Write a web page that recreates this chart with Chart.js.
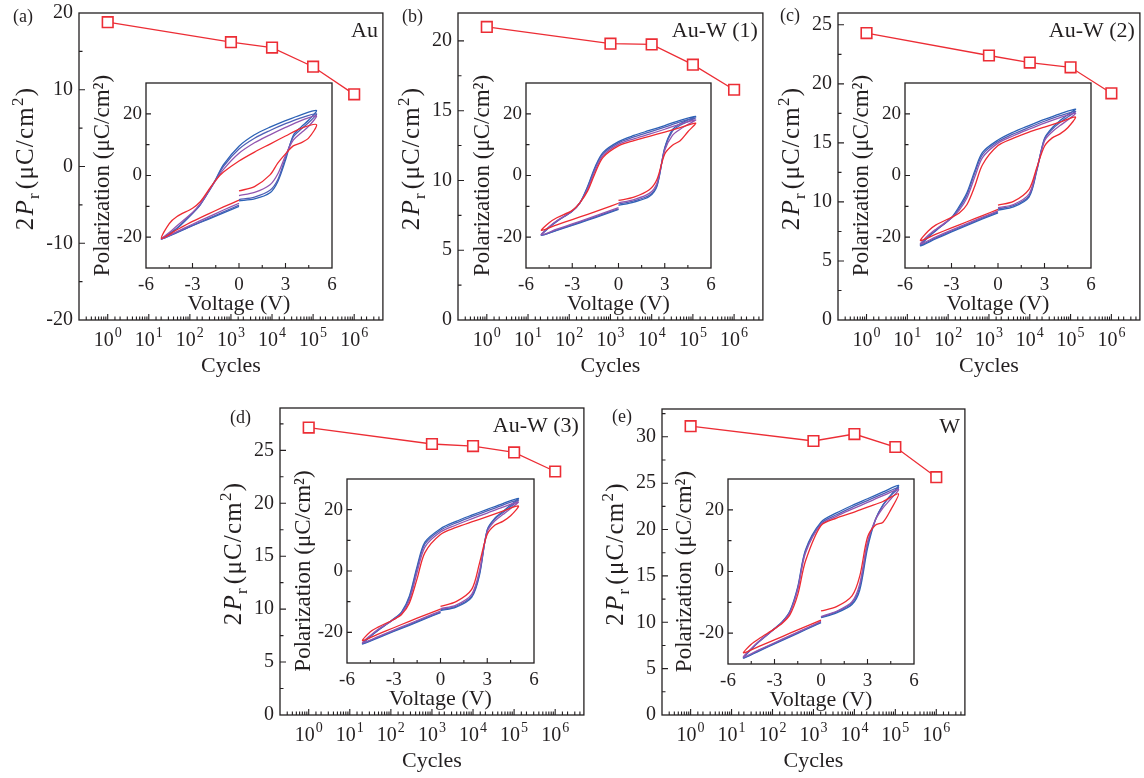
<!DOCTYPE html>
<html>
<head>
<meta charset="utf-8">
<title>Remanent polarization vs cycles</title>
<script src="https://cdn.jsdelivr.net/npm/chart.js"></script>
<style>
  html, body { margin: 0; padding: 0; background: #fff; overflow: hidden; }
  #page { position: relative; width: 1144px; height: 778px; overflow: hidden; }
  #page canvas { position: absolute; }
</style>
</head>
<body>
<div id="page"></div>
<script>
// ---- data ----
const cycles = [1, 1e3, 1e4, 1e5, 1e6];

// 2Pr (uC/cm2) per panel
const prA = [18.8, 16.2, 15.5, 13.0, 9.4];
const prB = [21.0, 19.8, 19.75, 18.3, 16.5];
const prC = [24.3, 22.4, 21.8, 21.4, 19.2];
const prD = [27.15, 25.6, 25.4, 24.8, 23.0];
const prE = [31.15, 29.55, 30.3, 28.9, 25.65];

// voltage path of one P-V loop: 0 -> +5 -> -5 -> 0
const loopVolts = [0, 1, 2, 2.5, 3, 3.5, 4, 4.5, 5, 4, 3, 2, 1, 0, -1, -1.5, -2, -2.5, -3, -4, -4.5, -5, -4, -3, -2, -1, 0];

// polarization along that path, loops ordered blue -> red
const loopsA = [
  [-8.2, -7.6, -5.6, -2.0, 5.0, 13.0, 15.7, 18.0, 21.1, 19.7, 17.8, 15.7, 13.2, 9.5, 3.5, -1.2, -5.5, -9.5, -12.3, -17.2, -19.0, -20.6, -18.5, -16.3, -14.2, -12.1, -10.0],
  [-7.8, -7.0, -4.8, -1.4, 5.8, 12.5, 15.0, 17.2, 20.0, 18.7, 16.8, 14.6, 12.1, 8.6, 3.0, -1.4, -5.6, -9.4, -12.2, -17.0, -18.9, -20.6, -18.4, -16.2, -14.0, -11.8, -9.6],
  [-6.5, -5.5, -3.0, 0.5, 6.5, 11.5, 13.8, 16.0, 19.4, 17.8, 15.6, 13.2, 10.6, 7.2, 2.0, -1.6, -5.4, -9.2, -12.0, -16.3, -18.5, -20.6, -18.2, -15.8, -13.5, -11.2, -9.0],
  [-5.0, -3.6, 0.2, 4.0, 7.0, 9.6, 10.6, 12.2, 16.5, 15.3, 12.8, 10.2, 7.6, 4.7, 1.1, -1.5, -5.0, -8.5, -10.6, -13.3, -15.6, -20.4, -17.6, -14.9, -12.5, -10.2, -8.0]
];
const loopsB = [
  [-9.7, -8.6, -6.8, -3.4, 9.0, 14.9, 16.8, 18.0, 19.2, 17.9, 16.2, 14.6, 13.0, 11.0, 7.5, 3.0, -3.5, -8.8, -11.5, -14.8, -16.8, -19.3, -17.8, -16.2, -14.5, -12.8, -11.0],
  [-9.3, -8.2, -6.4, -3.0, 8.8, 14.4, 16.3, 17.5, 18.7, 17.4, 15.7, 14.1, 12.5, 10.6, 7.1, 2.6, -3.8, -8.9, -11.6, -14.9, -16.9, -19.4, -17.7, -16.0, -14.3, -12.5, -10.8],
  [-8.9, -7.8, -5.8, -2.4, 8.2, 13.0, 15.0, 16.5, 18.0, 16.7, 15.0, 13.4, 11.9, 10.1, 6.5, 1.8, -4.4, -8.9, -11.5, -14.7, -16.6, -19.2, -17.4, -15.7, -14.0, -12.2, -10.4],
  [-8.1, -7.0, -4.6, -1.2, 7.0, 9.8, 11.3, 14.2, 17.0, 15.5, 14.1, 12.7, 11.3, 9.6, 5.9, 1.0, -5.0, -8.8, -11.3, -13.7, -15.3, -17.8, -16.0, -14.3, -12.6, -10.8, -9.0]
];
const loopsC = [
  [-11.2, -10.2, -7.0, 1.5, 12.0, 15.5, 17.8, 19.7, 21.5, 20.0, 18.2, 16.2, 14.1, 11.5, 7.5, 1.5, -5.5, -10.0, -13.6, -17.8, -20.0, -22.8, -20.5, -18.3, -16.2, -14.1, -12.1],
  [-10.8, -9.8, -6.6, 1.8, 11.8, 15.0, 17.2, 19.0, 20.8, 19.4, 17.6, 15.6, 13.5, 11.0, 6.8, 0.8, -6.2, -10.6, -13.8, -17.8, -19.8, -22.5, -20.2, -18.0, -15.9, -13.8, -11.8],
  [-10.4, -9.4, -6.0, 2.0, 11.2, 14.2, 16.2, 18.0, 20.2, 18.8, 17.0, 15.0, 12.9, 10.5, 5.8, -0.5, -7.2, -11.2, -13.8, -17.4, -19.4, -22.2, -19.9, -17.7, -15.6, -13.5, -11.5],
  [-9.6, -8.4, -4.5, 2.5, 9.5, 12.2, 13.5, 15.5, 19.0, 17.3, 15.7, 14.1, 12.1, 9.7, 3.5, -3.5, -9.4, -12.2, -13.6, -16.0, -18.0, -21.1, -19.0, -17.0, -15.0, -13.0, -11.0]
];
const loopsD = [
  [-12.9, -11.8, -8.6, -1.4, 13.5, 17.3, 19.4, 21.5, 23.7, 22.0, 20.1, 18.2, 16.2, 13.8, 9.4, 1.5, -8.2, -13.4, -15.6, -19.3, -21.4, -23.8, -21.8, -19.7, -17.7, -15.6, -13.6],
  [-12.6, -11.5, -8.2, -0.8, 13.2, 17.0, 19.0, 21.0, 23.2, 21.5, 19.6, 17.7, 15.7, 13.3, 8.8, 0.8, -8.8, -13.6, -15.7, -19.3, -21.3, -23.6, -21.6, -19.5, -17.5, -15.4, -13.4],
  [-12.3, -11.1, -7.6, 0.0, 12.8, 16.4, 18.4, 20.4, 22.5, 20.8, 18.9, 17.0, 15.0, 12.7, 7.8, -0.4, -9.6, -13.9, -15.8, -19.0, -21.0, -23.4, -21.4, -19.3, -17.2, -15.1, -13.1],
  [-11.5, -10.0, -6.0, 2.5, 12.0, 15.0, 16.2, 18.0, 21.2, 19.5, 17.7, 16.0, 14.2, 11.9, 6.0, -2.5, -10.5, -14.2, -15.8, -18.3, -19.8, -22.7, -20.6, -18.5, -16.4, -14.4, -12.4]
];
const loopsE = [
  [-15.0, -13.4, -10.7, -6.0, 7.5, 16.5, 21.5, 24.8, 27.9, 25.8, 23.6, 21.4, 19.0, 16.0, 7.0, -5.0, -12.8, -16.3, -18.5, -22.7, -25.2, -28.1, -25.8, -23.5, -21.2, -18.9, -16.6],
  [-14.8, -13.1, -10.2, -5.0, 8.8, 16.8, 21.6, 24.6, 27.2, 25.2, 23.0, 20.8, 18.4, 15.6, 6.6, -5.4, -13.0, -16.4, -18.6, -22.8, -25.2, -28.0, -25.6, -23.3, -21.0, -18.7, -16.4],
  [-14.6, -12.9, -9.8, -4.0, 9.5, 16.6, 20.6, 23.5, 26.6, 24.6, 22.4, 20.2, 17.9, 15.2, 6.0, -5.8, -13.3, -16.5, -18.6, -22.6, -25.0, -27.7, -25.4, -23.1, -20.8, -18.5, -16.2],
  [-12.8, -11.4, -7.9, -1.5, 11.1, 15.0, 16.0, 20.0, 25.2, 22.7, 20.9, 19.0, 17.3, 14.9, 3.4, -7.5, -14.0, -16.8, -18.6, -21.8, -23.6, -26.4, -24.3, -22.2, -20.0, -17.9, -15.8]
];

const loopColors = ['#2c62b6', '#4f5fb6', '#9156b0', '#ee2a31'];
const lineRed = '#ec2d35';
const ink = '#231f20';
const serif = "'Liberation Serif', 'Times New Roman', Times, serif";

// box = [left, top, right, bottom] of the plot frame in page pixels
const panels = [
  { tag: '(a)', tagAt: [13, 17], name: 'Au', pr: prA, loops: loopsA, yMin: -20, yMax: 20, yStep: 10,
    box: [79, 13, 386, 320], inset: [146, 83, 332, 268] },
  { tag: '(b)', tagAt: [402, 17], name: 'Au-W (1)', pr: prB, loops: loopsB, yMin: 0, yMax: 22, yStep: 5,
    box: [458, 13, 766, 320], inset: [526, 83, 711, 268] },
  { tag: '(c)', tagAt: [780, 16], name: 'Au-W (2)', pr: prC, loops: loopsC, yMin: 0, yMax: 26, yStep: 5,
    box: [838, 13, 1143, 320], inset: [905, 83, 1091, 268] },
  { tag: '(d)', tagAt: [230, 418], name: 'Au-W (3)', pr: prD, loops: loopsD, yMin: 0, yMax: 29, yStep: 5,
    box: [280, 408, 587, 715], inset: [347, 479, 534, 663] },
  { tag: '(e)', tagAt: [612, 417], name: 'W', pr: prE, loops: loopsE, yMin: 0, yMax: 33, yStep: 5,
    box: [662, 409, 968, 715], inset: [728, 479, 914, 664] }
];

Chart.defaults.font.family = serif;
Chart.defaults.color = ink;

const page = document.getElementById('page');

function addCanvas(left, top, w, h) {
  const c = document.createElement('canvas');
  c.width = w;
  c.height = h;
  c.style.left = left + 'px';
  c.style.top = top + 'px';
  c.style.width = w + 'px';
  c.style.height = h + 'px';
  page.appendChild(c);
  return c;
}

function isDecade(v) {
  const e = Math.log10(v);
  return Math.abs(e - Math.round(e)) < 1e-6;
}

function isMultiple(v, step) {
  const r = Math.abs(v / step - Math.round(v / step));
  return r < 1e-6;
}

// inward tick marks on the bottom and left sides
function tickMarks(ctx, scale, area, horizontal, isMajor, majorLen, minorLen) {
  const lo = horizontal ? area.left + 0.5 : area.top + 0.5;
  const hi = horizontal ? area.right - 0.5 : area.bottom - 0.5;
  scale.ticks.forEach(t => {
    const p = scale.getPixelForValue(t.value);
    if (p <= lo || p >= hi) return;
    const len = isMajor(t.value) ? majorLen : minorLen;
    if (horizontal) {
      ctx.moveTo(p, area.bottom);
      ctx.lineTo(p, area.bottom - len);
    } else {
      ctx.moveTo(area.left, p);
      ctx.lineTo(area.left + len, p);
    }
  });
}

function drawFrame(ctx, a) {
  ctx.strokeStyle = ink;
  ctx.lineWidth = 1.3;
  ctx.strokeRect(a.left, a.top, a.right - a.left, a.bottom - a.top);
}

// rotated "2Pr (uC/cm2)" with italic P, subscript r and superscript 2
function drawPrTitle(ctx, cx, cy) {
  const parts = [
    ['2', `25px ${serif}`, 0, 1],
    ['P', `italic 25px ${serif}`, 0, 0],
    ['r', `17px ${serif}`, 6, 3],
    ['(\u03bcC/cm', `25px ${serif}`, 0, 0],
    ['2', `17px ${serif}`, -10, 0],
    [')', `25px ${serif}`, 0, 0]
  ];
  const gap = 1.2; // loose spacing as in the original lettering
  let total = 0;
  parts.forEach(p => {
    ctx.font = p[1];
    p.push(ctx.measureText(p[0]).width + gap * p[0].length + p[3]);
    total += p[4];
  });
  ctx.save();
  ctx.translate(cx, cy);
  ctx.rotate(-Math.PI / 2);
  ctx.textAlign = 'left';
  ctx.textBaseline = 'alphabetic';
  let x = -total / 2;
  parts.forEach(p => {
    ctx.font = p[1];
    let cx2 = x;
    for (const ch of p[0]) {
      ctx.fillText(ch, cx2, 8.5 + p[2]);
      cx2 += ctx.measureText(ch).width + gap;
    }
    x += p[4];
  });
  ctx.restore();
}

function drawMain(p) {
  const [L, T, R, B] = p.box;
  const ox = L - 79, oy = T - 13;
  const cv = addCanvas(ox, oy, R - L + 85, B - T + 78);

  const deco = {
    id: 'mainDeco',
    afterDraw(chart) {
      const { ctx, chartArea: a, scales: { x, y } } = chart;
      ctx.save();
      drawFrame(ctx, a);
      ctx.beginPath();
      tickMarks(ctx, x, a, true, isDecade, 6, 3.5);
      tickMarks(ctx, y, a, false, v => isMultiple(v, p.yStep), 6, 3.5);
      ctx.lineWidth = 1.1;
      ctx.stroke();

      // decade labels 10^n
      ctx.fillStyle = ink;
      ctx.textAlign = 'left';
      ctx.textBaseline = 'alphabetic';
      x.ticks.filter(t => isDecade(t.value)).forEach(t => {
        const e = String(Math.round(Math.log10(t.value)));
        const px = x.getPixelForValue(t.value);
        ctx.font = `20px ${serif}`;
        const w1 = ctx.measureText('10').width;
        ctx.font = `14px ${serif}`;
        const w2 = ctx.measureText(e).width;
        const x0 = px - (w1 + w2 + 1) / 2;
        ctx.font = `20px ${serif}`;
        ctx.fillText('10', x0, a.bottom + 26);
        ctx.font = `14px ${serif}`;
        ctx.fillText(e, x0 + w1 + 1, a.bottom + 17);
      });

      // y title placed left of the widest tick label
      ctx.font = `20px ${serif}`;
      const labelW = Math.max(...y.ticks.map(t => ctx.measureText(String(t.label)).width));
      drawPrTitle(ctx, a.left - 6 - labelW - 21.5, (a.top + a.bottom) / 2 - 8);

      // sample name and panel tag
      ctx.fillStyle = ink;
      ctx.font = `22px ${serif}`;
      ctx.textAlign = 'right';
      ctx.textBaseline = 'middle';
      ctx.fillText(p.name, a.right - 5, a.top + 18.5);
      ctx.font = `18px ${serif}`;
      ctx.textAlign = 'left';
      ctx.fillText(p.tag, p.tagAt[0] - ox, p.tagAt[1] - oy);
      ctx.restore();
    }
  };

  new Chart(cv, {
    type: 'line',
    data: {
      datasets: [{
        data: cycles.map((c, i) => ({ x: c, y: p.pr[i] })),
        borderColor: lineRed,
        borderWidth: 1.3,
        pointStyle: 'rect',
        pointRadius: 7.5,
        pointBorderWidth: 1.6,
        pointBorderColor: lineRed,
        pointBackgroundColor: '#ffffff',
        tension: 0
      }]
    },
    options: {
      responsive: false,
      animation: false,
      events: [],
      layout: { padding: { left: 0, top: 13, right: 6, bottom: 0 } },
      plugins: { legend: { display: false }, tooltip: { enabled: false } },
      scales: {
        x: {
          type: 'logarithmic',
          min: 0.2,
          max: 5e6,
          grid: { display: false },
          border: { display: false },
          ticks: { display: false, autoSkip: false },
          title: { display: true, text: 'Cycles', color: ink, font: { family: serif, size: 22 }, padding: { top: 0, bottom: 6 } },
          afterFit: s => { s.height = 65; s.paddingLeft = 0; s.paddingRight = 0; }
        },
        y: {
          min: p.yMin,
          max: p.yMax,
          grid: { display: false, drawTicks: false },
          border: { display: false },
          ticks: {
            stepSize: p.yStep / 2,
            includeBounds: false,
            autoSkip: false,
            padding: 6,
            color: ink,
            font: { family: serif, size: 20 },
            callback: v => (isMultiple(v, p.yStep) ? v : '')
          },
          afterFit: s => { s.width = 79; s.paddingTop = 0; s.paddingBottom = 0; }
        }
      }
    },
    plugins: [deco]
  });
}

function drawInset(p) {
  const [L, T, R, B] = p.inset;
  const cv = addCanvas(L - 60, T - 12, R - L + 74, B - T + 62);

  const deco = {
    id: 'insetDeco',
    afterDraw(chart) {
      const { ctx, chartArea: a, scales: { x, y } } = chart;
      ctx.save();
      drawFrame(ctx, a);
      ctx.beginPath();
      tickMarks(ctx, x, a, true, v => isMultiple(v, 3), 5, 3);
      tickMarks(ctx, y, a, false, v => isMultiple(v, 20), 5, 3.5);
      ctx.lineWidth = 1.1;
      ctx.stroke();
      ctx.restore();
    }
  };

  new Chart(cv, {
    type: 'scatter',
    data: {
      datasets: p.loops.map((ys, k) => ({
        data: loopVolts.map((v, i) => ({ x: v, y: ys[i] })),
        showLine: true,
        borderColor: loopColors[k],
        borderWidth: 1.3,
        pointRadius: 0,
        tension: 0.3,
        order: p.loops.length - k
      }))
    },
    options: {
      responsive: false,
      animation: false,
      events: [],
      layout: { padding: { left: 0, top: 12, right: 14, bottom: 0 } },
      plugins: { legend: { display: false }, tooltip: { enabled: false } },
      scales: {
        x: {
          type: 'linear',
          min: -6,
          max: 6,
          grid: { display: false, drawTicks: false },
          border: { display: false },
          ticks: {
            stepSize: 1.5,
            autoSkip: false,
            maxRotation: 0,
            padding: 6,
            color: ink,
            font: { family: serif, size: 19 },
            callback: v => (isMultiple(v, 3) ? v : '')
          },
          title: { display: true, text: 'Voltage (V)', color: ink, font: { family: serif, size: 22 }, padding: { top: 0, bottom: 1 } },
          afterFit: s => { s.height = 50; s.paddingLeft = 0; s.paddingRight = 0; }
        },
        y: {
          min: -30,
          max: 30,
          grid: { display: false, drawTicks: false },
          border: { display: false },
          ticks: {
            stepSize: 10,
            autoSkip: false,
            padding: 4,
            color: ink,
            font: { family: serif, size: 19 },
            callback: v => (isMultiple(v, 20) ? v : '')
          },
          title: { display: true, text: 'Polarization (\u03bcC/cm\u00b2)', color: ink, font: { family: serif, size: 23 }, padding: { top: 3, bottom: 0 } },
          afterFit: s => { s.width = 60; s.paddingTop = 0; s.paddingBottom = 0; }
        }
      }
    },
    plugins: [deco]
  });
}

panels.forEach(p => {
  drawMain(p);
  drawInset(p);
});
</script>
</body>
</html>
